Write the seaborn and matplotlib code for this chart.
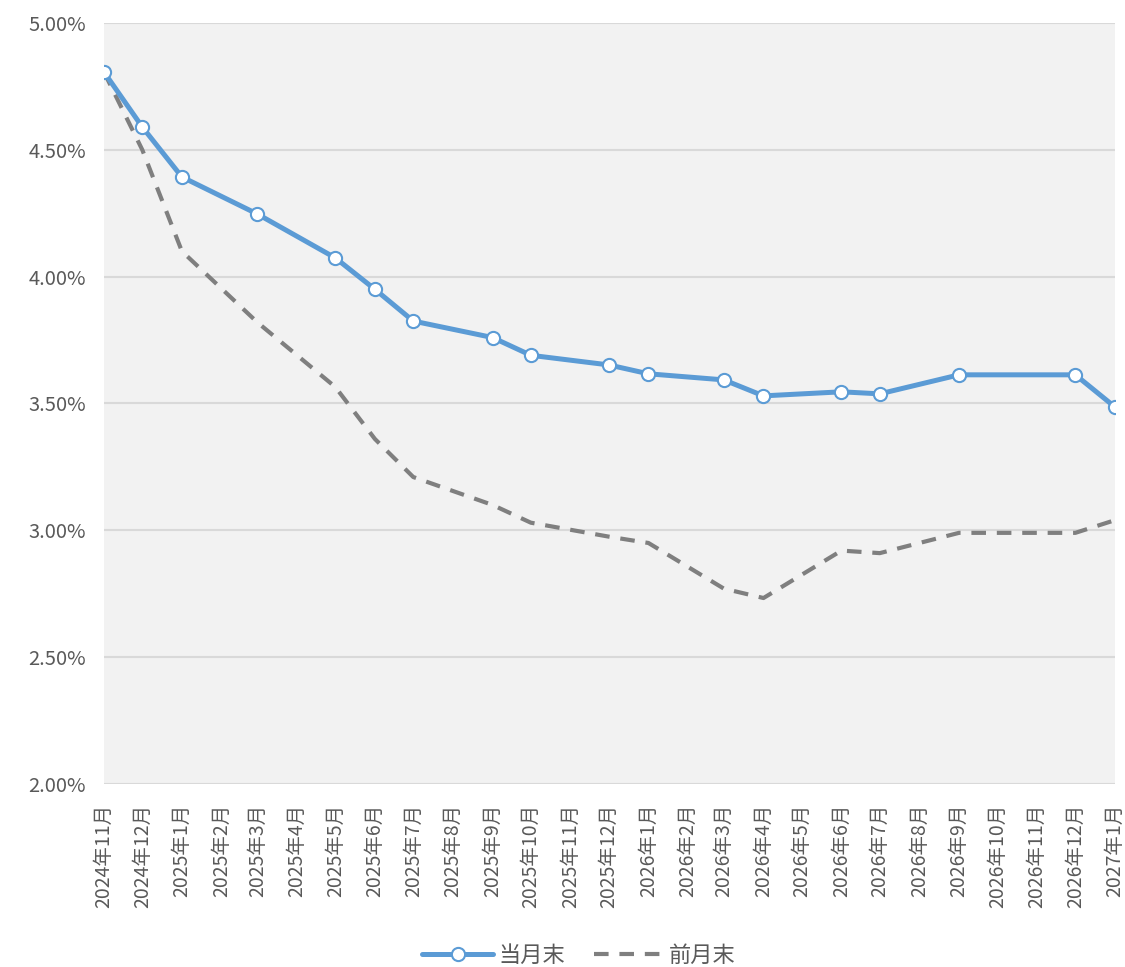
import numpy as np
import pandas as pd
import matplotlib
matplotlib.use("Agg")
import matplotlib.pyplot as plt
import matplotlib.dates as mdates
from matplotlib.ticker import FuncFormatter, MultipleLocator
import seaborn as sns

# 月初の日付（データ点）
dates = ["2024-11-01", "2024-12-01", "2025-01-01", "2025-03-01", "2025-05-01",
         "2025-06-01", "2025-07-01", "2025-09-01", "2025-10-01", "2025-12-01",
         "2026-01-01", "2026-03-01", "2026-04-01", "2026-06-01", "2026-07-01",
         "2026-09-01", "2026-12-01", "2027-01-01"]
# 当月末 (%)
current = [4.807, 4.59, 4.393, 4.247, 4.074, 3.95, 3.825, 3.76, 3.69, 3.652,
           3.617, 3.593, 3.53, 3.546, 3.538, 3.613, 3.613, 3.486]
# 前月末 (%)
previous = [4.807, 4.50, 4.10, 3.82, 3.565, 3.36, 3.21, 3.10, 3.03, 2.975,
            2.95, 2.77, 2.733, 2.92, 2.91, 2.99, 2.99, 3.04]

df = pd.DataFrame({"date": pd.to_datetime(dates), "当月末": current, "前月末": previous})

sns.set_style("white")
plt.rcParams["font.family"] = ["Noto Sans CJK JP", "DejaVu Sans"]

text_color = "#595959"
blue = "#5B9BD5"
gray = "#7F7F7F"

fig = plt.figure(figsize=(11.25, 9.67), dpi=100)
ax = fig.add_axes([0.0924, 0.1893, 0.8987, 0.7869])
ax.set_facecolor("#F2F2F2")

sns.lineplot(data=df, x="date", y="当月末", ax=ax, color=blue, linewidth=3.6,
             marker="o", markersize=9.5, markerfacecolor="white",
             markeredgecolor=blue, markeredgewidth=1.5, label="当月末", zorder=3)
sns.lineplot(data=df, x="date", y="前月末", ax=ax, color=gray, linewidth=3,
             label="前月末", zorder=2)
ax.lines[-1].set_dashes([3.5, 2.6])

ax.set_xlim(pd.Timestamp("2024-11-01"), pd.Timestamp("2027-01-01"))
ax.set_ylim(2.0, 5.0)
ax.yaxis.set_major_locator(MultipleLocator(0.5))
ax.yaxis.set_major_formatter(FuncFormatter(lambda v, p: f"{v:.2f}%"))
ax.xaxis.set_major_locator(mdates.MonthLocator())
ax.xaxis.set_major_formatter(FuncFormatter(
    lambda v, p: f"{mdates.num2date(v).year}年{mdates.num2date(v).month}月"))

ax.grid(axis="y", color="#D9D9D9", linewidth=1.5)
ax.grid(axis="x", visible=False)
ax.set_axisbelow(True)
for s in ax.spines.values():
    s.set_visible(False)

ax.tick_params(axis="x", length=0, pad=14, labelsize=14, labelcolor=text_color,
               labelrotation=90)
ax.tick_params(axis="y", length=0, pad=13, labelsize=14.5, labelcolor=text_color)
ax.set_xlabel("")
ax.set_ylabel("")

leg = ax.legend(loc="center", bbox_to_anchor=(0.47, -0.225), ncol=2, frameon=False,
                fontsize=16, handlelength=3.2, columnspacing=1.3, handletextpad=0.2)
for t in leg.get_texts():
    t.set_color(text_color)

fig.savefig("out.png", dpi=100)
